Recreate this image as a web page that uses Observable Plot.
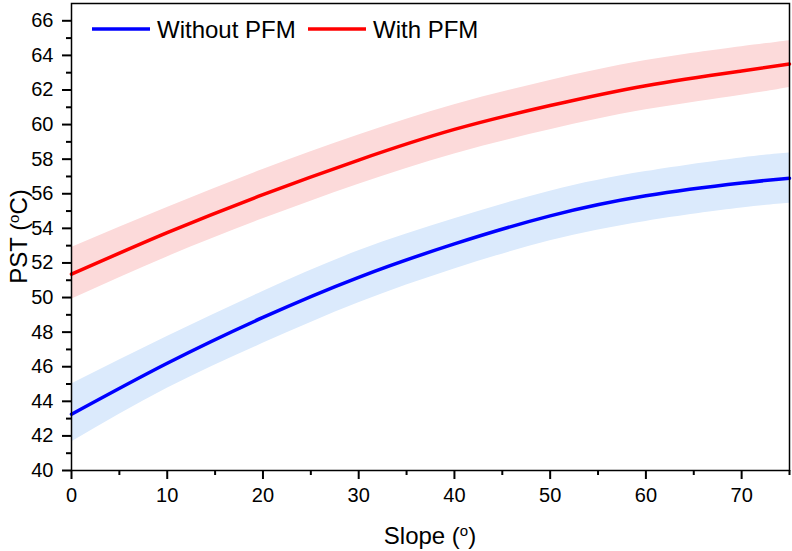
<!DOCTYPE html>
<html><head><meta charset="utf-8">
<script src="https://cdn.jsdelivr.net/npm/d3@7"></script>
<script src="https://cdn.jsdelivr.net/npm/@observablehq/plot@0.6"></script>
<style>body{margin:0;background:#fff;} #chart{width:792px;height:551px;}</style>
</head><body><div id="chart"></div>
<script>
const slope = [0,10,20,30,40,50,60,70,75];
const withoutPFM     = [43.25,46.2,48.85,51.17,53.1,54.72,55.88,56.62,56.9];
const withoutPFMLow  = [41.65,44.75,47.35,49.7,51.65,53.28,54.4,55.17,55.45];
const withoutPFMHigh = [45.0,47.75,50.35,52.7,54.55,56.15,57.28,58.07,58.35];
const withPFM        = [51.35,53.75,55.95,57.95,59.72,61.1,62.25,63.1,63.5];
const withPFMLow     = [49.9,52.35,54.55,56.55,58.3,59.7,60.85,61.7,62.15];
const withPFMHigh    = [52.9,55.2,57.4,59.4,61.15,62.55,63.7,64.5,64.85];
const xMajor = [0,10,20,30,40,50,60,70];
const xMinor = [5,15,25,35,45,55,65,75];
const yMajor = [40,42,44,46,48,50,52,54,56,58,60,62,64,66];
const yMinor = [41,43,45,47,49,51,53,55,57,59,61,63,65];
const seriesNames = ["Without PFM","With PFM"];
const lineColors = ["#0000ff","#ff0000"];
const bandColors = ["#dbeafc","#fcdada"];

const toRows = (mid, lo, hi) => slope.map((s,i)=>({slope:s, pst:mid[i], lo:lo[i], hi:hi[i]}));
const rowsWithout = toRows(withoutPFM, withoutPFMLow, withoutPFMHigh);
const rowsWith = toRows(withPFM, withPFMLow, withPFMHigh);

const plot = Plot.plot({
  width: 792, height: 551,
  marginLeft: 71, marginRight: 3, marginTop: 3, marginBottom: 81,
  style: {fontFamily: "Arial, 'Liberation Sans', sans-serif", fontSize: "20px", color: "#000", background: "#fff", overflow: "visible"},
  x: {domain: [0, 75]},
  y: {domain: [40, 67]},
  marks: [
    Plot.areaY(rowsWithout, {x: "slope", y1: "lo", y2: "hi", fill: bandColors[0], curve: "natural"}),
    Plot.areaY(rowsWith, {x: "slope", y1: "lo", y2: "hi", fill: bandColors[1], curve: "natural"}),
    Plot.line(rowsWithout, {x: "slope", y: "pst", stroke: lineColors[0], strokeWidth: 3.5, curve: "natural"}),
    Plot.line(rowsWith, {x: "slope", y: "pst", stroke: lineColors[1], strokeWidth: 3.5, curve: "natural"}),
    Plot.axisX({ticks: xMajor, tickSize: 9, tickPadding: 8, tickFormat: d => String(d), label: null, strokeWidth: 2}),
    Plot.axisX({ticks: xMinor, tickSize: 5, tickFormat: () => "", label: null, strokeWidth: 2}),
    Plot.axisY({ticks: yMajor, tickSize: 9, tickPadding: 9, tickFormat: d => String(d), label: null, strokeWidth: 2}),
    Plot.axisY({ticks: yMinor, tickSize: 5, tickFormat: () => "", label: null, strokeWidth: 2}),
    Plot.frame({stroke: "#000", strokeWidth: 1.5})
  ]
});
document.getElementById("chart").append(plot);

const svg = d3.select(plot);
const font = "Arial, 'Liberation Sans', sans-serif";
// x axis title
const xt = svg.append("text").attr("x", 430).attr("y", 544).attr("text-anchor", "middle")
  .attr("font-family", font).attr("font-size", 24).attr("fill", "#000");
xt.append("tspan").text("Slope (");
xt.append("tspan").attr("font-size", 15).attr("dy", -8).text("o");
xt.append("tspan").attr("dy", 8).text(")");
// y axis title
const yt = svg.append("text").attr("transform", "translate(27,236.5) rotate(-90)").attr("text-anchor", "middle")
  .attr("font-family", font).attr("font-size", 24).attr("fill", "#000");
yt.append("tspan").text("PST (");
yt.append("tspan").attr("font-size", 15).attr("dy", -8).text("o");
yt.append("tspan").attr("dy", 8).text("C)");
// legend
const legendX = [92, 308];
seriesNames.forEach((name, i) => {
  const g = svg.append("g").attr("transform", `translate(${legendX[i]},29)`);
  g.append("line").attr("x1", 0).attr("x2", 58).attr("y1", 0).attr("y2", 0)
    .attr("stroke", lineColors[i]).attr("stroke-width", 3.5);
  g.append("text").attr("x", 65).attr("y", 8.5).attr("text-anchor", "start")
    .attr("font-family", font).attr("font-size", 24)
    .attr("fill", "#000").text(name);
});
</script>
</body></html>
